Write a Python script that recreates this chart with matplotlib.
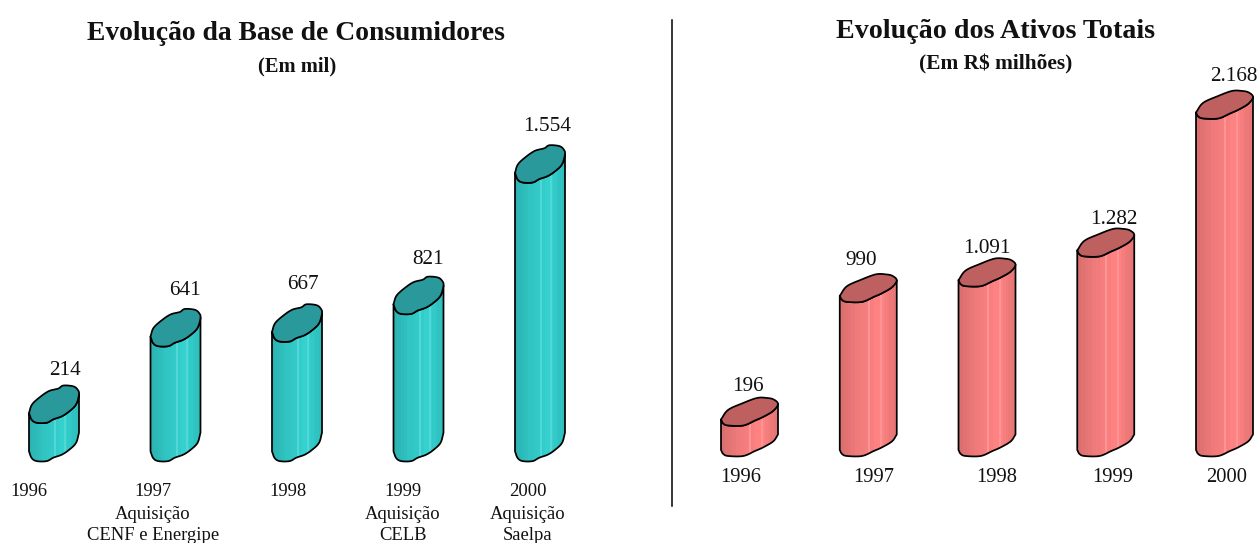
import numpy as np
import matplotlib
matplotlib.use("Agg")
import matplotlib.pyplot as plt
from matplotlib.patches import Polygon

plt.rcParams["font.family"] = ["Liberation Serif", "DejaVu Serif"]

W, H = 1260, 543

# left panel
years_cons = ["1996", "1997", "1998", "1999", "2000"]
consumers = [214, 641, 667, 821, 1554]
consumer_labels = ["214", "641", "667", "821", "1.554"]
notes_cons = ["", "Aquisição\nCENF e Energipe", "", "Aquisição\nCELB", "Aquisição\nSaelpa"]

# right panel
years_assets = ["1996", "1997", "1998", "1999", "2000"]
assets = [196, 990, 1091, 1282, 2168]
asset_labels = ["196", "990", "1.091", "1.282", "2.168"]

# cap outlines, px relative to the front-left corner of the bar
front_l = [(0, 0), (2.7, -6.7), (7.7, -9.7), (17.7, -9.7), (24.3, -6.3), (32.7, -3.3),
           (40, 1.5), (47, 8.5), (50, 18.7)]
back_l = [(48.7, 23.3), (44.3, 26.7), (34.3, 27.5), (29.3, 24.5), (20, 22), (11, 16),
          (3, 8.5), (0, 0)]
front_r = [(0, 0), (2.3, -4), (7.3, -6), (22.3, -6), (34, -1), (42.3, 2.7), (52.3, 8.7), (57, 15.5)]
back_r = [(52.7, 20), (46, 21.5), (36, 21.5), (21, 16), (7, 9.5), (0, 0)]

# brightness of the vertical facets across a bar, left to right
facets = [.86, .86, .88, .88, .90, .90, .92, .92, .94, .94, .95, .95, .96, .97, .97,
          1.06, .98, .98, 1, 1, 1, 1.06, 1, .97, .97, .95, .93, .93, .91, .91]


def smooth(pts, n=8):
    # catmull-rom through the outline points
    pts = np.array(pts, dtype=float)
    p = np.vstack([2 * pts[0] - pts[1], pts, 2 * pts[-1] - pts[-2]])
    out = []
    for i in range(1, len(p) - 2):
        for t in np.linspace(0, 1, n, endpoint=False):
            out.append(0.5 * (2 * p[i] + (p[i + 1] - p[i - 1]) * t
                              + (2 * p[i - 1] - 5 * p[i] + 4 * p[i + 1] - p[i + 2]) * t ** 2
                              + (3 * p[i] - p[i - 1] - 3 * p[i + 1] + p[i + 2]) * t ** 3))
    out.append(p[-2])
    return np.array(out)


def draw_bars(rect, x0, step, base, scale, values, front, back, body, cap):
    left, right = rect
    ax = fig.add_axes([left / W, 0, (right - left) / W, 1])
    xlim = ((left - x0) / step, (right - x0) / step)
    ylim = ((base - H) / scale, base / scale)
    ax.axis("off")

    edge = smooth(front)
    top = smooth(front + back)
    rgb = np.array(matplotlib.colors.to_rgb(body))
    img = np.array([rgb * s if s <= 1 else rgb + (1 - rgb) * (s - 1) * 2.5 for s in facets])[None, :, :]
    w = max(p[0] for p in front)

    for i, v in enumerate(values):
        # px offsets turned into data units
        ex = i + edge[:, 0] / step
        outline = np.vstack([
            np.column_stack([ex, v + edge[:, 1] / scale]),
            np.column_stack([ex[::-1], edge[::-1, 1] / scale]),
        ])
        poly = Polygon(outline, closed=True, fc="none", ec="black", lw=1.25, joinstyle="round", zorder=3)
        ax.add_patch(poly)
        im = ax.imshow(img, extent=(i, i + w / step, -60 / scale, v + 40 / scale),
                       aspect="auto", interpolation="nearest", zorder=2)
        im.set_clip_path(poly)
        ax.add_patch(Polygon(np.column_stack([i + top[:, 0] / step, v + top[:, 1] / scale]),
                             closed=True, fc=cap, ec="black", lw=1.25, joinstyle="round", zorder=4))
    ax.set_xlim(xlim)
    ax.set_ylim(ylim)
    return ax


fig = plt.figure(figsize=(W / 100, H / 100), dpi=100)

ax1 = draw_bars((0, 630), 29, 121.5, 451.4, 0.1793, consumers, front_l, back_l, "#34D1CF", "#2A999B")
ax2 = draw_bars((680, 1260), 721, 118.75, 450, 0.1557, assets, front_r, back_r, "#FF8282", "#BE6060")

# value labels, px from the bar's front-left corner
for i, (v, s, dx, dy) in enumerate(zip(consumers, consumer_labels,
                                       [36, 34, 31, 35, 32], [43, 46, 47, 45, 46])):
    ax1.annotate(s, (i, v), xytext=(dx, dy), textcoords="offset pixels",
                 ha="center", va="center", fontsize=15.3, color="#111111")
for i, (v, s, dx, dy) in enumerate(zip(assets, asset_labels,
                                       [27, 21, 28, 37, 38], [33, 35, 32, 31, 36])):
    ax2.annotate(s, (i, v), xytext=(dx, dy), textcoords="offset pixels",
                 ha="center", va="center", fontsize=15.3, color="#111111")


def px_text(x, y, s, **kw):
    fig.text(x / W, 1 - y / H, s, ha="center", va="center", color="#111111", **kw)


px_text(296, 33, "Evolução da Base de Consumidores", fontsize=19.9, fontweight="bold")
px_text(297, 66, "(Em mil)", fontsize=14.8, fontweight="bold")
px_text(995, 32, "Evolução dos Ativos Totais", fontsize=20.2, fontweight="bold")
px_text(996, 64, "(Em R$ milhões)", fontsize=15.4, fontweight="bold")

for x, y, note in zip([29, 153, 288, 403, 528], years_cons, notes_cons):
    px_text(x, 491, y, fontsize=13.4)
    if note:
        px_text(x, 525, note, fontsize=13.4, linespacing=1.25)

for x, y in zip([741, 874, 997, 1113, 1227], years_assets):
    px_text(x, 478, y, fontsize=14.8)

# divider between the panels
fig.add_artist(plt.Line2D([672 / W, 672 / W], [1 - 20 / H, 1 - 506 / H], color="black", lw=1.1))

fig.savefig("out.png", dpi=100)
